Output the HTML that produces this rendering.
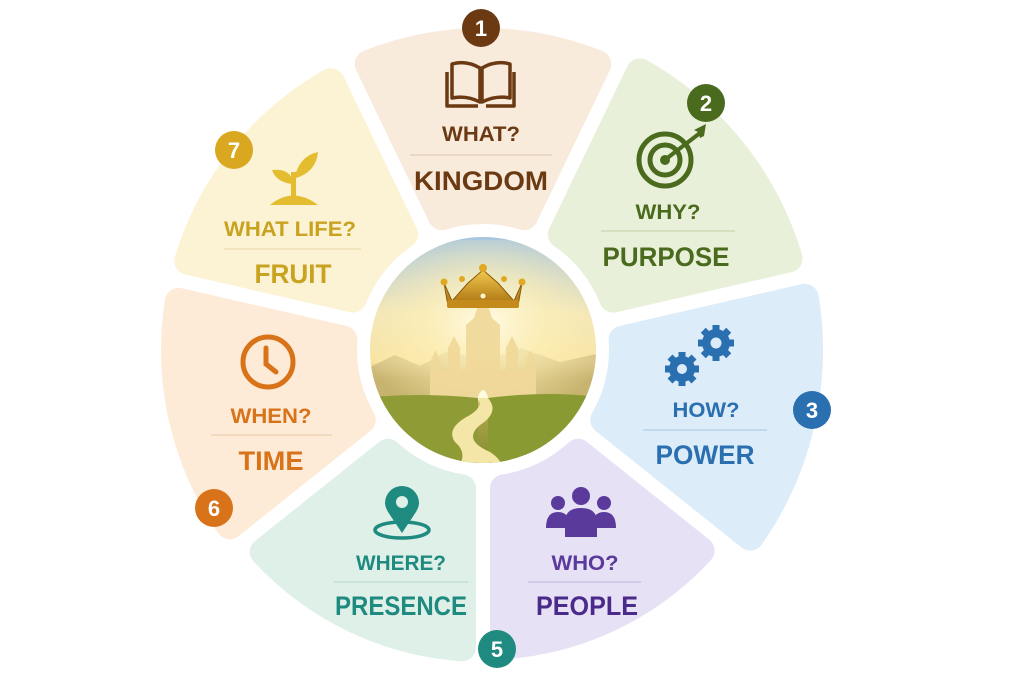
<!DOCTYPE html>
<html><head><meta charset="utf-8"><style>
html,body{margin:0;padding:0;background:#fff;}
svg{display:block;font-family:"Liberation Sans",sans-serif;font-weight:bold;}
</style></head><body>
<svg id="s" width="1024" height="682" viewBox="0 0 1024 682" xmlns="http://www.w3.org/2000/svg">
<defs>
<clipPath id="cc"><circle cx="483" cy="350" r="113"/></clipPath>
<linearGradient id="sky" x1="0" y1="0" x2="0" y2="1">
<stop offset="0" stop-color="#9fc2e2"/><stop offset="0.35" stop-color="#f2e6b8"/><stop offset="0.55" stop-color="#f8e4a2"/><stop offset="0.62" stop-color="#c9b15a"/><stop offset="1" stop-color="#7d8a2e"/></linearGradient>
<radialGradient id="glow" cx="0.5" cy="0.42" r="0.5"><stop offset="0" stop-color="#fffbe6" stop-opacity="1"/><stop offset="0.5" stop-color="#fff1b8" stop-opacity="0.6"/><stop offset="1" stop-color="#fff1b8" stop-opacity="0"/></radialGradient>
<linearGradient id="gold" x1="0" y1="0" x2="0" y2="1"><stop offset="0" stop-color="#f2c94c"/><stop offset="1" stop-color="#a8700f"/></linearGradient>
</defs>
<g id="segs"></g>
<circle cx="483" cy="350" r="113" fill="#fff"/>
<g clip-path="url(#cc)">
<rect x="360" y="230" width="250" height="240" fill="url(#sky)"/>
<polygon points="360,372 395,355 420,366 450,350 483,362 520,348 560,362 606,352 606,400 360,400" fill="#c9b77a" opacity="0.7"/>
<rect x="360" y="240" width="250" height="200" fill="url(#glow)"/>
<g fill="#f0d99a" opacity="0.95">
<rect x="430" y="370" width="106" height="32"/>
<polygon points="466,400 466,325 474,318 483,290 492,318 500,325 500,400"/>
<rect x="448" y="348" width="12" height="52"/><polygon points="448,348 454,336 460,348"/>
<rect x="506" y="348" width="12" height="52"/><polygon points="506,348 512,336 518,348"/>
<rect x="431" y="360" width="9" height="40"/><polygon points="431,360 435.5,350 440,360"/>
<rect x="526" y="360" width="9" height="40"/><polygon points="526,360 530.5,350 535,360"/>
</g>
<path d="M477,400 Q483,380 489,400 Z" fill="#fffbe0"/>
<path d="M360,398 Q420,392 478,398 L478,470 L360,470 Z" fill="#8f9c35"/>
<path d="M488,398 Q550,390 606,398 L606,470 L488,470 Z" fill="#8a9a32"/>
<path d="M478,398 L488,398 Q500,412 480,425 Q462,440 490,452 Q505,462 500,470 L455,470 Q470,455 455,442 Q445,428 470,415 Q484,406 478,398 Z" fill="#f3e6a6"/>
</g>
<g>
<path d="M444,283 L452,301 L468,283 L483,270 L498,283 L514,301 L522,283 L518,306 L448,306 Z" fill="url(#gold)" stroke="#8a5a0a" stroke-width="1"/>
<rect x="447" y="300" width="72" height="8" rx="2" fill="#c48a1c"/>
<circle cx="444" cy="282" r="3.5" fill="#e0a823"/><circle cx="462" cy="279" r="3" fill="#e0a823"/><circle cx="483" cy="268" r="4" fill="#e0a823"/><circle cx="504" cy="279" r="3" fill="#e0a823"/><circle cx="522" cy="282" r="3.5" fill="#e0a823"/>
<circle cx="483" cy="296" r="2.5" fill="#fff6d0"/>
</g>
<g fill="none" stroke="#6b3a12" stroke-width="3.5" stroke-linejoin="round">
<path d="M452,64 Q466,60 480,68 L480,102 Q466,95 452,98 Z"/>
<path d="M510,64 Q496,60 482,68 L482,102 Q496,95 510,98 Z"/>
<path d="M447,72 L447,106 L478,106 M514,72 L514,106 L486,106"/>
</g>
<g fill="none" stroke="#4a6b1e" stroke-width="5">
<circle cx="665" cy="160" r="26"/><circle cx="665" cy="160" r="15"/>
</g>
<circle cx="665" cy="160" r="5" fill="#4a6b1e"/>
<line x1="666" y1="159" x2="700" y2="133" stroke="#4a6b1e" stroke-width="4"/>
<polygon points="694,130 706,124 704,136 700,138 698,132" fill="#4a6b1e"/>
<g fill="#2a6fb0">
<circle cx="682" cy="369" r="13"/><circle cx="716" cy="343" r="14"/>
</g>
<g stroke="#2a6fb0" stroke-width="7" id="teeth"></g>
<circle cx="682" cy="369" r="5" fill="#dcebf8"/><circle cx="716" cy="343" r="5.5" fill="#dcebf8"/>
<g fill="#5a3a9a">
<circle cx="558" cy="503" r="7"/><circle cx="604" cy="503" r="7"/><circle cx="581" cy="496" r="9"/>
<path d="M546,528 Q546,512 558,512 Q570,512 570,528 Z"/>
<path d="M592,528 Q592,512 604,512 Q616,512 616,528 Z"/>
<path d="M565,537 L565,522 Q565,508 581,508 Q597,508 597,522 L597,537 Z"/>
</g>
<g>
<ellipse cx="402" cy="530" rx="27" ry="8" fill="none" stroke="#1f8a80" stroke-width="3.5"/>
<path d="M402,533 L390,515 Q385,508 385,503 A17,17 0 0 1 419,503 Q419,508 414,515 Z" fill="#1f8a80"/>
<circle cx="402" cy="502" r="6" fill="#def0e8"/>
</g>
<g fill="none" stroke="#d9731a" stroke-width="5" stroke-linecap="round">
<circle cx="268" cy="362" r="25"/><path d="M266,348 L266,364 L276,372"/>
</g>
<g fill="#e3bd2f">
<path d="M270,205 Q293,186 318,205 Z"/>
<rect x="291" y="172" width="5" height="26"/>
<path d="M292,184 Q276,182 272,170 Q288,168 293,180 Z"/>
<path d="M295,176 Q300,156 318,152 Q316,172 296,178 Z"/>
</g>
<g text-anchor="middle">
<text x="481" y="141" font-size="21" fill="#6b3a12" textLength="78" lengthAdjust="spacingAndGlyphs">WHAT?</text>
<line x1="410" y1="155" x2="552" y2="155" stroke="#e5d2bd" stroke-width="1.5"/>
<text x="481" y="190" font-size="27" fill="#6b3a12" textLength="134" lengthAdjust="spacingAndGlyphs">KINGDOM</text>
<text x="668" y="219" font-size="21" fill="#4a6b1e" textLength="65" lengthAdjust="spacingAndGlyphs">WHY?</text>
<line x1="601" y1="231" x2="735" y2="231" stroke="#cfdbb8" stroke-width="1.5"/>
<text x="666" y="266" font-size="27" fill="#4a6b1e" textLength="127" lengthAdjust="spacingAndGlyphs">PURPOSE</text>
<text x="706" y="417" font-size="21" fill="#2a6fb0" textLength="67" lengthAdjust="spacingAndGlyphs">HOW?</text>
<line x1="643" y1="430" x2="767" y2="430" stroke="#b8d3ea" stroke-width="1.5"/>
<text x="705" y="464" font-size="27" fill="#2a6fb0" textLength="99" lengthAdjust="spacingAndGlyphs">POWER</text>
<text x="585" y="570" font-size="21" fill="#5a3a9a" textLength="67" lengthAdjust="spacingAndGlyphs">WHO?</text>
<line x1="528" y1="582" x2="641" y2="582" stroke="#cdc3e6" stroke-width="1.5"/>
<text x="587" y="615" font-size="27" fill="#4a2a8a" textLength="102" lengthAdjust="spacingAndGlyphs">PEOPLE</text>
<text x="401" y="570" font-size="21" fill="#1f8a80" textLength="90" lengthAdjust="spacingAndGlyphs">WHERE?</text>
<line x1="334" y1="582" x2="468" y2="582" stroke="#bfdfd6" stroke-width="1.5"/>
<text x="401" y="615" font-size="27" fill="#1f8a80" textLength="132" lengthAdjust="spacingAndGlyphs">PRESENCE</text>
<text x="271" y="423" font-size="21" fill="#d9731a" textLength="81" lengthAdjust="spacingAndGlyphs">WHEN?</text>
<line x1="211" y1="435" x2="332" y2="435" stroke="#f0d5b6" stroke-width="1.5"/>
<text x="271" y="470" font-size="27" fill="#d9731a" textLength="65" lengthAdjust="spacingAndGlyphs">TIME</text>
<text x="290" y="236" font-size="21" fill="#c9a21f" textLength="132" lengthAdjust="spacingAndGlyphs">WHAT LIFE?</text>
<line x1="224" y1="249" x2="361" y2="249" stroke="#eee0b4" stroke-width="1.5"/>
<text x="293" y="283" font-size="27" fill="#c9a21f" textLength="77" lengthAdjust="spacingAndGlyphs">FRUIT</text>
</g>
<g text-anchor="middle" font-size="22" fill="#fff">
<circle cx="481" cy="28" r="19" fill="#6b3a12"/><text x="481" y="36" fill="#fff">1</text>
<circle cx="706" cy="103" r="19" fill="#4a6b1e"/><text x="706" y="111" fill="#fff">2</text>
<circle cx="812" cy="410" r="19" fill="#2a6fb0"/><text x="812" y="418" fill="#fff">3</text>
<circle cx="497" cy="649" r="19" fill="#1f8a80"/><text x="497" y="657" fill="#fff">5</text>
<circle cx="214" cy="508" r="19" fill="#d9731a"/><text x="214" y="516" fill="#fff">6</text>
<circle cx="234" cy="150" r="19" fill="#d9a820"/><text x="234" y="158" fill="#fff">7</text>
</g>
</svg>
<script>
(function(){
var NS="http://www.w3.org/2000/svg",cx=483,cy=350;
var b=[-115.7,-64.3,-12.9,38.6,90,141.4,192.9,244.3];
var R=[322,333,340,310,312,322,322];
var col=["#f8ebdc","#e9f0da","#ddecf9","#e7e1f6","#dff0e8","#fdebd7","#fcf3d5"];
var k=14,hg=7,ri=126,g=document.getElementById("segs");
function P(a,rho,d,s){var t=a*Math.PI/180,u=[Math.cos(t),Math.sin(t)],n=[-Math.sin(t),Math.cos(t)];
var L=Math.sqrt(rho*rho-d*d);return (cx+L*u[0]+s*d*n[0]).toFixed(1)+","+(cy+L*u[1]+s*d*n[1]).toFixed(1);}
for(var i=0;i<7;i++){var d=hg+k,Ro=R[i]-k,Ri=ri+k,a0=b[i],a1=b[i+1];
var p="M"+P(a0,Ri,d,1)+" L"+P(a0,Ro,d,1)+" A"+Ro+" "+Ro+" 0 0 1 "+P(a1,Ro,d,-1)+" L"+P(a1,Ri,d,-1)+" A"+Ri+" "+Ri+" 0 0 0 "+P(a0,Ri,d,1)+" Z";
var e=document.createElementNS(NS,"path");e.setAttribute("d",p);e.setAttribute("fill",col[i]);e.setAttribute("stroke",col[i]);e.setAttribute("stroke-width",2*k);e.setAttribute("stroke-linejoin","round");g.appendChild(e);}
var tg=document.getElementById("teeth");
[[682,369,13],[716,343,14]].forEach(function(c){for(var j=0;j<8;j++){var a=j*Math.PI/4;var l=document.createElementNS(NS,"line");
l.setAttribute("x1",c[0]+(c[2]-3)*Math.cos(a));l.setAttribute("y1",c[1]+(c[2]-3)*Math.sin(a));l.setAttribute("x2",c[0]+(c[2]+4)*Math.cos(a));l.setAttribute("y2",c[1]+(c[2]+4)*Math.sin(a));tg.appendChild(l);}});
})();
</script>
</body></html>
